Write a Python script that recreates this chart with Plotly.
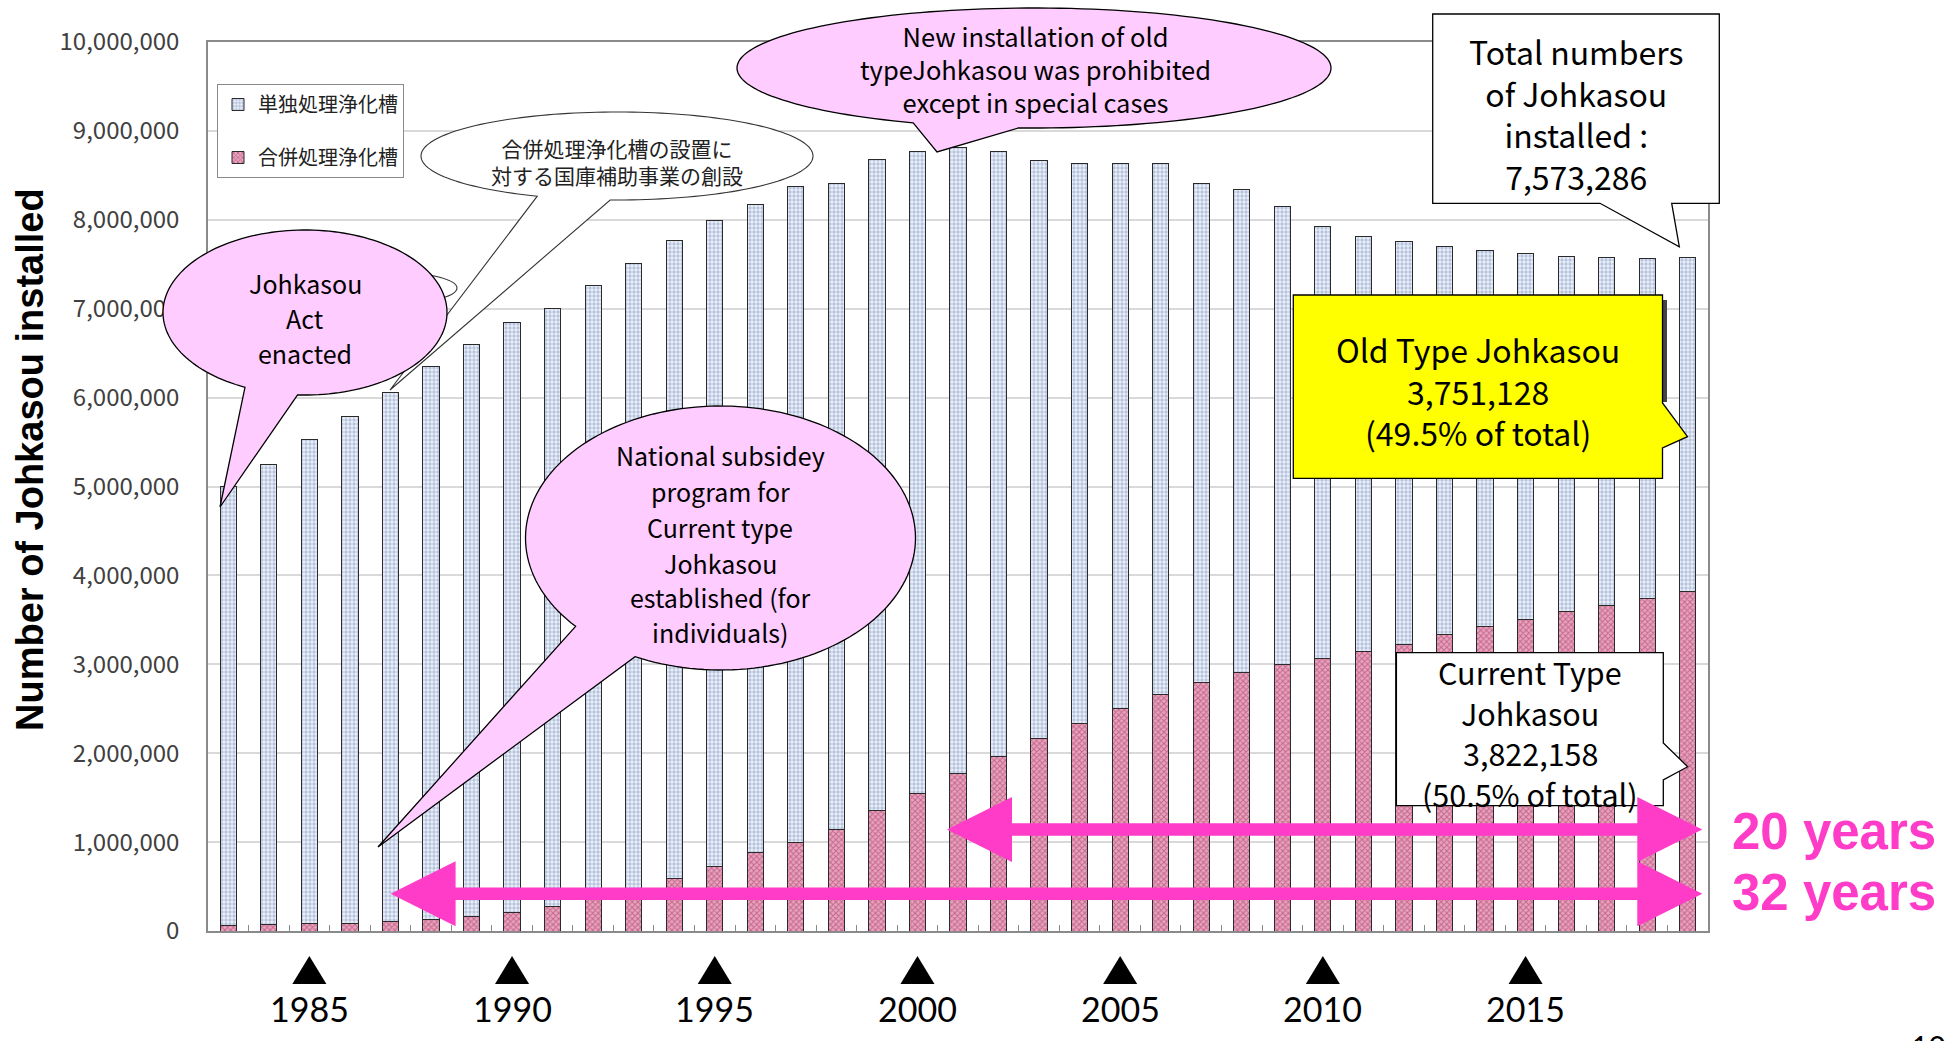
import math
import plotly.graph_objects as go

# ---- data -------------------------------------------------------------
years = list(range(1983, 2020))

# 合併処理浄化槽 (current type), units installed
current_type = [60_000, 70_000, 80_000, 90_000, 110_000, 130_000, 160_000, 210_000, 280_000, 370_000,
                460_000, 590_000, 720_000, 880_000, 1_000_000, 1_140_000, 1_350_000, 1_550_000, 1_770_000, 1_960_000,
                2_160_000, 2_330_000, 2_500_000, 2_660_000, 2_790_000, 2_910_000, 3_000_000, 3_060_000, 3_140_000, 3_220_000,
                3_330_000, 3_420_000, 3_500_000, 3_590_000, 3_660_000, 3_740_000, 3_822_158]

# 単独処理浄化槽 (old type), units installed
old_type = [4_940_000, 5_180_000, 5_450_000, 5_700_000, 5_950_000, 6_220_000, 6_440_000, 6_630_000, 6_720_000, 6_890_000,
            7_050_000, 7_180_000, 7_270_000, 7_290_000, 7_370_000, 7_270_000, 7_330_000, 7_220_000, 7_040_000, 6_810_000,
            6_510_000, 6_300_000, 6_130_000, 5_970_000, 5_620_000, 5_430_000, 5_150_000, 4_870_000, 4_670_000, 4_540_000,
            4_370_000, 4_230_000, 4_120_000, 4_000_000, 3_920_000, 3_820_000, 3_751_128]

marked_years = [1985, 1990, 1995, 2000, 2005, 2010, 2015]
y_ticks = list(range(0, 10_000_001, 1_000_000))

series_old = "単独処理浄化槽"
series_current = "合併処理浄化槽"

# ---- page geometry ------------------------------------------------------
W, H = 1951, 1041
ML, MR, MT, MB = 208, 243, 42, 110
PW = W - ML - MR
PH = H - MT - MB

JP = "Noto Sans CJK JP"
PINK = "#FFCCFF"
MAGENTA = "#FF3CC8"


def px(x):
    return (x - ML) / PW


def py(y):
    return (H - MB - y) / PH


def path_from(points):
    return "M" + "L".join(f"{px(x):.5f},{py(y):.5f}" for x, y in points) + "Z"


def bubble(cx, cy, rx, ry, a_lo, a_hi, tip, n=160):
    """Ellipse outline with a pointed tail between angles a_lo..a_hi (deg, y down)."""
    pts = []
    start, end = a_hi, a_lo + 360
    for i in range(n + 1):
        a = math.radians(start + (end - start) * i / n)
        pts.append((cx + rx * math.cos(a), cy + ry * math.sin(a)))
    pts.append(tip)
    return path_from(pts)


def double_arrow(x_left, x_right, yc, head_len, head_half, shaft_half):
    return path_from([
        (x_left, yc),
        (x_left + head_len, yc - head_half),
        (x_left + head_len, yc - shaft_half),
        (x_right - head_len, yc - shaft_half),
        (x_right - head_len, yc - head_half),
        (x_right, yc),
        (x_right - head_len, yc + head_half),
        (x_right - head_len, yc + shaft_half),
        (x_left + head_len, yc + shaft_half),
        (x_left + head_len, yc + head_half),
    ])


# ---- bars ---------------------------------------------------------------
fig = go.Figure()
fig.add_trace(go.Bar(
    x=years, y=current_type, name=series_current, legendgroup="current", legendrank=2,
    width=0.4,
    marker=dict(color="#E59AB6", line=dict(color="#2a2a2a", width=1),
                pattern=dict(shape="x", fgcolor="#A02C5A", bgcolor="#E8A3BE", size=4, solidity=0.45)),
))
fig.add_trace(go.Bar(
    x=years, y=old_type, name=series_old, legendgroup="old", legendrank=1,
    width=0.4,
    marker=dict(color="#DCE4F2", line=dict(color="#2a2a2a", width=1),
                pattern=dict(shape=".", fgcolor="#7F95C6", bgcolor="#EDF1F8", size=4, solidity=0.55)),
))

fig.update_layout(
    width=W, height=H,
    margin=dict(l=ML, r=MR, t=MT, b=MB, pad=0),
    paper_bgcolor="white", plot_bgcolor="white",
    barmode="stack",
    showlegend=True,
    legend=dict(x=px(217), y=py(84), xanchor="left", yanchor="top",
                bgcolor="white", bordercolor="#8a8a8a", borderwidth=1,
                font=dict(family=JP, size=20, color="#222"),
                traceorder="grouped", tracegroupgap=24,
                itemwidth=30),
    xaxis=dict(range=[1982.5, 2019.5], showgrid=False, zeroline=False,
               tickvals=[y + 0.5 for y in years[:-1]], ticks="inside", ticklen=6,
               tickcolor="#8a8a8a", showticklabels=False,
               showline=True, linecolor="#8a8a8a", linewidth=1.5, mirror=True),
    yaxis=dict(range=[0, 10_000_000], tickvals=y_ticks, tickformat=",",
               showgrid=True, gridcolor="#D9D9D9", gridwidth=1.5, zeroline=False,
               tickfont=dict(family=JP, size=24, color="#404040"),
               ticklabelstandoff=22,
               showline=True, linecolor="#8a8a8a", linewidth=1.5, mirror=True),
)

# ---- callout shapes -------------------------------------------------------
shapes = []
outline = dict(color="black", width=1.3)

# small ellipse mostly hidden behind the pink bubble
shapes.append(dict(type="circle", xref="paper", yref="paper",
                   x0=px(303), x1=px(457), y0=py(305), y1=py(271),
                   fillcolor="white", line=dict(color="#333", width=1.1), layer="above"))
# white callout (subsidy program, Japanese)
shapes.append(dict(type="path", xref="paper", yref="paper",
                   path=bubble(617, 156, 196, 44, 92, 114, (390, 390)),
                   fillcolor="white", line=dict(color="#333", width=1.1), layer="above"))
# pink bubbles
shapes.append(dict(type="path", xref="paper", yref="paper",
                   path=bubble(305, 312.5, 142, 82.5, 93, 115, (220, 507)),
                   fillcolor=PINK, line=outline, layer="above"))
shapes.append(dict(type="path", xref="paper", yref="paper",
                   path=bubble(720.5, 538, 195, 132, 116, 138, (378, 847)),
                   fillcolor=PINK, line=outline, layer="above"))
shapes.append(dict(type="path", xref="paper", yref="paper",
                   path=bubble(1034, 68, 297, 60, 93, 114, (937, 152)),
                   fillcolor=PINK, line=outline, layer="above"))

# total box with pointer
L_, T_, R_, B_ = 1432.7, 14, 1719.3, 203.3
shapes.append(dict(type="path", xref="paper", yref="paper",
                   path=path_from([(L_, T_), (R_, T_), (R_, B_), (1671.7, B_), (1679.3, 246.7),
                                   (1600, B_), (L_, B_)]),
                   fillcolor="white", line=outline, layer="above"))

# yellow box with pointer and shadow
shapes.append(dict(type="line", xref="paper", yref="paper",
                   x0=px(1665), x1=px(1665), y0=py(300), y1=py(402),
                   line=dict(color="#444", width=4), layer="above"))
L_, T_, R_, B_ = 1293.3, 295, 1662.5, 478.3
shapes.append(dict(type="path", xref="paper", yref="paper",
                   path=path_from([(L_, T_), (R_, T_), (R_, 403), (1687.5, 436.7), (R_, 448),
                                   (R_, B_), (L_, B_)]),
                   fillcolor="#FFFF00", line=outline, layer="above"))

# current type box with pointer
L_, T_, R_, B_ = 1396.4, 652.7, 1663.3, 805.7
shapes.append(dict(type="path", xref="paper", yref="paper",
                   path=path_from([(L_, T_), (R_, T_), (R_, 743), (1687.7, 766.7), (R_, 780),
                                   (R_, B_), (L_, B_)]),
                   fillcolor="white", line=outline, layer="above"))

# span arrows
shapes.append(dict(type="path", xref="paper", yref="paper",
                   path=double_arrow(947, 1702.3, 829.5, 65, 32.5, 6.2),
                   fillcolor=MAGENTA, line=dict(width=0), layer="above"))
shapes.append(dict(type="path", xref="paper", yref="paper",
                   path=double_arrow(390.6, 1702.3, 893.7, 65, 32.5, 6.2),
                   fillcolor=MAGENTA, line=dict(width=0), layer="above"))

# black triangles marking every fifth year, just below the axis
for yr in marked_years:
    shapes.append(dict(type="path", xref="x", yref="paper",
                       path=f"M{yr - 0.42},{py(984):.5f}L{yr + 0.42},{py(984):.5f}L{yr},{py(956):.5f}Z",
                       fillcolor="black", line=dict(width=0), layer="above"))

fig.update_layout(shapes=shapes)


# ---- text -----------------------------------------------------------------
def text(s, x, y, size, family=JP, color="black", xanchor="center", angle=0):
    fig.add_annotation(text=s, x=px(x), y=py(y), xref="paper", yref="paper",
                       showarrow=False, xanchor=xanchor, yanchor="middle", align="center",
                       textangle=angle, font=dict(size=size, family=family, color=color))


for s, y in zip(["Johkasou", "Act", "enacted"], [283, 317.7, 353]):
    text(s, 305, y, 25)

text("合併処理浄化槽の設置に<br>対する国庫補助事業の創設", 617, 161.5, 21, color="#222")

text("New installation of old<br>typeJohkasou was prohibited<br>except in special cases", 1035, 68.3, 25.5)

for s, y in zip(["National subsidey", "program for", "Current type", "Johkasou",
                 "established (for", "individuals)"],
                [455, 490.7, 526.7, 562.7, 596.7, 631.7]):
    text(s, 720, y, 25)

total_last = old_type[-1] + current_type[-1]
text(f"Total numbers<br>of Johkasou<br>installed :<br>{total_last:,}", 1576, 113.5, 32)

old_share = old_type[-1] / total_last * 100
text(f"Old Type Johkasou<br>{old_type[-1]:,}<br>({old_share:.1f}% of total)", 1478, 390.5, 32)

cur_share = current_type[-1] / total_last * 100
for s, y in zip(["Current Type", "Johkasou", f"{current_type[-1]:,}", f"({cur_share:.1f}% of total)"],
                [672, 712.5, 753, 793.5]):
    text(s, 1530, y, 30.5)

text("<b>20 years</b>", 1730, 831, 51, family="Liberation Sans", color=MAGENTA, xanchor="left")
text("<b>32 years</b>", 1730, 892, 51, family="Liberation Sans", color=MAGENTA, xanchor="left")

text("<b>Number of Johkasou installed</b>", 30, 460, 38, family="Liberation Sans", angle=-90)

text("10", 1928, 1046, 30, family="Lato")

# year labels under the triangles
for yr in marked_years:
    fig.add_annotation(text=str(yr), x=yr, xref="x", y=py(1008), yref="paper", showarrow=False,
                       xanchor="center", yanchor="middle",
                       font=dict(size=34, family="Lato", color="black"))

fig.write_html("out.html")
